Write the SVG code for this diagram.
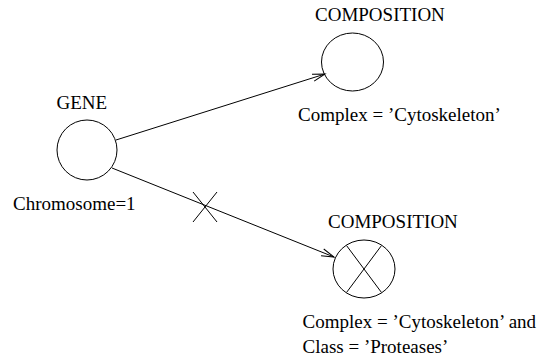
<svg xmlns="http://www.w3.org/2000/svg" width="556" height="360" viewBox="0 0 556 360">
  <style>
    .node { fill: none; stroke: #000; stroke-width: 1; }
    .edge { fill: none; stroke: #000; stroke-width: 1; }
    .lbl { font-family: "Liberation Serif", "Times New Roman", serif; font-size: 19px; fill: #000; }
  </style>
  <defs>
    <marker id="open-arrow" viewBox="-14 -6 16 12" refX="0" refY="0" markerWidth="16" markerHeight="12" markerUnits="userSpaceOnUse" orient="auto">
      <path d="M -12.5 -3.6 L 0 0 L -12.5 3.6" fill="none" stroke="#000" stroke-width="1"/>
    </marker>
  </defs>
  <rect width="556" height="360" fill="#fff"/>

  <g id="connectors">
    <line class="edge" x1="116" y1="140" x2="325" y2="74" marker-end="url(#open-arrow)"/>
    <line class="edge" x1="112" y1="168" x2="334" y2="257" marker-end="url(#open-arrow)"/>
    <!-- cross on the negated link -->
    <line class="edge" x1="193" y1="192" x2="217" y2="222"/>
    <line class="edge" x1="217" y1="192" x2="193" y2="222"/>
  </g>

  <g id="gene">
    <text class="lbl" x="56.5" y="109">GENE</text>
    <circle class="node" cx="87" cy="150" r="30"/>
    <text class="lbl" x="13" y="210">Chromosome=1</text>
  </g>

  <g id="composition-complex">
    <text class="lbl" x="315" y="21">COMPOSITION</text>
    <ellipse class="node" cx="352.5" cy="62" rx="31" ry="29"/>
    <text class="lbl" x="298" y="121">Complex = ’Cytoskeleton’</text>
  </g>

  <g id="composition-class">
    <text class="lbl" x="328" y="228">COMPOSITION</text>
    <ellipse class="node" cx="364" cy="269" rx="31" ry="29"/>
    <line class="node" x1="346.5" y1="245.5" x2="381.5" y2="292.5"/>
    <line class="node" x1="381.5" y1="245.5" x2="346.5" y2="292.5"/>
    <text class="lbl" x="302.5" y="328">Complex = ’Cytoskeleton’ and</text>
    <text class="lbl" x="302.5" y="353">Class = ’Proteases’</text>
  </g>
</svg>
